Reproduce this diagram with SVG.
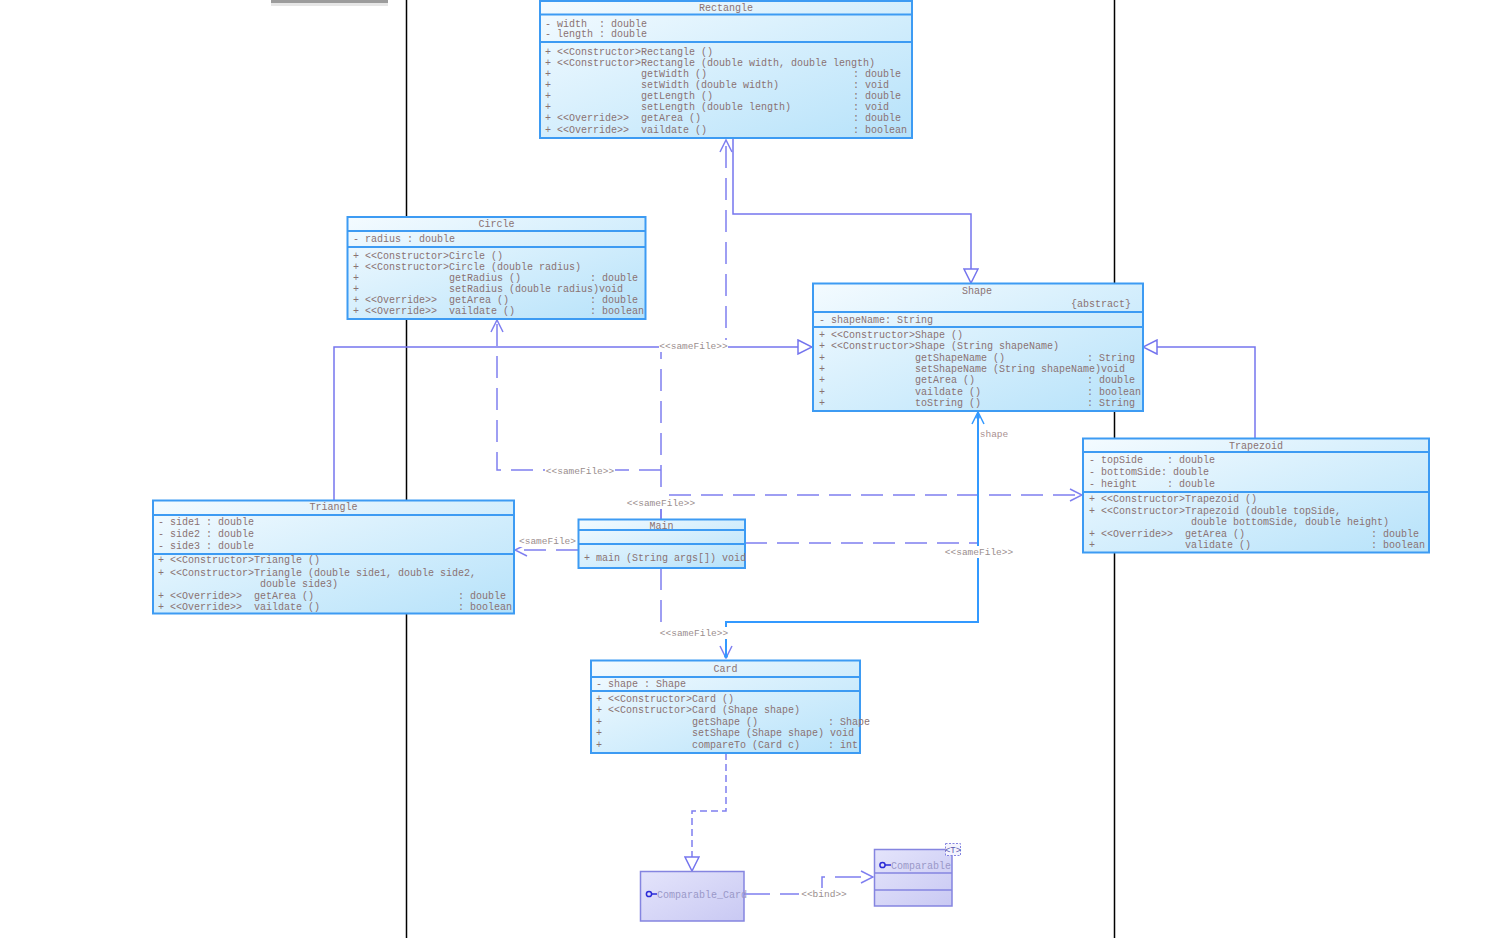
<svg xmlns="http://www.w3.org/2000/svg" width="1485" height="938" viewBox="0 0 1485 938" xml:space="preserve">
<style>
.box{fill:url(#bg);stroke:#3d9bf3;stroke-width:2}
.sep{stroke:#3d9bf3;stroke-width:2}
.t{font-family:"Liberation Mono",monospace;font-size:10px;fill:#8a7272;white-space:pre}
.c{text-anchor:middle}
.gen{fill:none;stroke:#7575ee;stroke-width:1.5}
.dep{fill:none;stroke:#7f7ff0;stroke-width:1.5;stroke-dasharray:22 10}
.assoc{fill:none;stroke:#3399ff;stroke-width:2}
.lbl{font-family:"Liberation Mono",monospace;font-size:9.5px;fill:#9a8e8e;text-anchor:middle;white-space:pre}
.lbg{fill:#ffffff}
.ibox{fill:url(#lav);stroke:#8585e0;stroke-width:1.5}
.it{font-family:"Liberation Mono",monospace;font-size:10px;fill:#9a98c8;white-space:pre}
.tp{font-family:"Liberation Mono",monospace;font-size:9px;fill:#5a58b0;text-anchor:middle}
</style>
<defs>
<linearGradient id="bg" x1="0" y1="0" x2="1" y2="1">
<stop offset="0" stop-color="#f4fbff"/>
<stop offset="1" stop-color="#b6e2fa"/>
</linearGradient>
<linearGradient id="lav" x1="0" y1="0" x2="1" y2="1">
<stop offset="0" stop-color="#e4e4fb"/>
<stop offset="1" stop-color="#c9c9f3"/>
</linearGradient>
<marker id="tri" markerUnits="userSpaceOnUse" markerWidth="16" markerHeight="16" refX="14" refY="7" orient="auto" viewBox="-1 -1 16 16">
<path d="M0,0 L14,7 L0,14 Z" fill="#ffffff" stroke="#7575ee" stroke-width="1.5"/>
</marker>
<marker id="open" markerUnits="userSpaceOnUse" markerWidth="14" markerHeight="14" refX="12" refY="6" orient="auto" viewBox="-1 -1 14 14">
<path d="M0,0 L12,6 L0,12" fill="none" stroke="#7f7ff0" stroke-width="1.5"/>
</marker>
<marker id="openb" markerUnits="userSpaceOnUse" markerWidth="14" markerHeight="14" refX="12" refY="6" orient="auto-start-reverse" viewBox="-1 -1 14 14">
<path d="M0,0 L12,6 L0,12" fill="none" stroke="#3399ff" stroke-width="1.5"/>
</marker>
</defs>
<rect x="0" y="0" width="1485" height="938" fill="#ffffff"/>
<rect x="271" y="0" width="117" height="6" fill="#e6e6e6"/>
<rect x="271" y="0" width="117" height="3" fill="#9c9c9c"/>
<line x1="406.5" y1="0" x2="406.5" y2="938" stroke="#000" stroke-width="1.5"/>
<line x1="1114.5" y1="0" x2="1114.5" y2="938" stroke="#000" stroke-width="1.5"/>

<g id="connectors">
<path class="gen" d="M733,139 V214 H971 V283" marker-end="url(#tri)"/>
<path class="gen" d="M334,500 V347 H812" marker-end="url(#tri)"/>
<path class="gen" d="M1255,438 V347 H1143" marker-end="url(#tri)"/>
<path class="dep" d="M661,519 V345 H726 V140" marker-end="url(#open)"/>
<path class="dep" d="M661,470 H497 V320" marker-end="url(#open)"/>
<path class="dep" d="M661,519 V495 H1082" marker-end="url(#open)"/>
<path class="dep" d="M578,550 H515" marker-end="url(#open)"/>
<path class="dep" d="M745,543 H977"/>
<path class="dep" d="M661,568 V632 H726 V658" marker-end="url(#open)"/>
<path class="assoc" d="M978,412 V622 H726 V656" marker-start="url(#openb)"/>
<circle cx="978" cy="417" r="2" fill="#3399ff"/>
<circle cx="726" cy="656" r="2" fill="#3399ff"/>
<path d="M726,753 V811 H692 V871" fill="none" stroke="#7f7ff0" stroke-width="1.5" stroke-dasharray="7 4" marker-end="url(#tri)"/>
<path d="M744,894 H822 V877 H873" fill="none" stroke="#7f7ff0" stroke-width="1.5" stroke-dasharray="26 10" marker-end="url(#open)"/>
<rect class="lbg" x="659" y="340" width="69" height="12"/>
<text class="lbl" x="693.5" y="349">&lt;&lt;sameFile&gt;&gt;</text>
<rect class="lbg" x="545" y="465" width="70" height="12"/>
<text class="lbl" x="580" y="474">&lt;&lt;sameFile&gt;&gt;</text>
<rect class="lbg" x="627" y="497" width="69" height="12"/>
<text class="lbl" x="661" y="506">&lt;&lt;sameFile&gt;&gt;</text>
<rect class="lbg" x="518" y="535" width="59" height="12"/>
<text class="lbl" x="547.5" y="544">&lt;sameFile&gt;</text>
<rect class="lbg" x="945" y="546" width="68" height="12"/>
<text class="lbl" x="979" y="555">&lt;&lt;sameFile&gt;&gt;</text>
<rect class="lbg" x="659" y="627" width="70" height="12"/>
<text class="lbl" x="694" y="636">&lt;&lt;sameFile&gt;&gt;</text>
<text class="lbl" x="994" y="437" style="fill:#a99090">shape</text>
<rect class="lbg" x="799" y="888" width="50" height="12"/>
<text class="lbl" x="824" y="897">&lt;&lt;bind&gt;&gt;</text>
</g>

<g id="Rectangle">
<rect class="box" x="540" y="1" width="372" height="137"/>
<line class="sep" x1="540" y1="14.5" x2="912" y2="14.5"/>
<line class="sep" x1="540" y1="42" x2="912" y2="42"/>
<text class="t c" x="726" y="10.5">Rectangle</text>
<text class="t" x="545" y="26.5">- width  : double</text>
<text class="t" x="545" y="37">- length : double</text>
<text class="t" x="545" y="54.5">+ &lt;&lt;Constructor&gt;</text><text class="t" x="641" y="54.5">Rectangle ()</text>
<text class="t" x="545" y="65.5">+ &lt;&lt;Constructor&gt;</text><text class="t" x="641" y="65.5">Rectangle (double width, double length)</text>
<text class="t" x="545" y="76.5">+</text><text class="t" x="641" y="76.5">getWidth ()</text><text class="t" x="853" y="76.5">: double</text>
<text class="t" x="545" y="87.5">+</text><text class="t" x="641" y="87.5">setWidth (double width)</text><text class="t" x="853" y="87.5">: void</text>
<text class="t" x="545" y="98.5">+</text><text class="t" x="641" y="98.5">getLength ()</text><text class="t" x="853" y="98.5">: double</text>
<text class="t" x="545" y="109.5">+</text><text class="t" x="641" y="109.5">setLength (double length)</text><text class="t" x="853" y="109.5">: void</text>
<text class="t" x="545" y="121">+ &lt;&lt;Override&gt;&gt;</text><text class="t" x="641" y="121">getArea ()</text><text class="t" x="853" y="121">: double</text>
<text class="t" x="545" y="132.5">+ &lt;&lt;Override&gt;&gt;</text><text class="t" x="641" y="132.5">vaildate ()</text><text class="t" x="853" y="132.5">: boolean</text>
</g>

<g id="Circle">
<rect class="box" x="347.5" y="217" width="298" height="102"/>
<line class="sep" x1="347.5" y1="231" x2="645.5" y2="231"/>
<line class="sep" x1="347.5" y1="247" x2="645.5" y2="247"/>
<text class="t c" x="496.5" y="227">Circle</text>
<text class="t" x="353" y="241.5">- radius : double</text>
<text class="t" x="353" y="258.5">+ &lt;&lt;Constructor&gt;</text><text class="t" x="449" y="258.5">Circle ()</text>
<text class="t" x="353" y="269.5">+ &lt;&lt;Constructor&gt;</text><text class="t" x="449" y="269.5">Circle (double radius)</text>
<text class="t" x="353" y="280.5">+</text><text class="t" x="449" y="280.5">getRadius ()</text><text class="t" x="590" y="280.5">: double</text>
<text class="t" x="353" y="291.5">+</text><text class="t" x="449" y="291.5">setRadius (double radius)void</text>
<text class="t" x="353" y="302.5">+ &lt;&lt;Override&gt;&gt;</text><text class="t" x="449" y="302.5">getArea ()</text><text class="t" x="590" y="302.5">: double</text>
<text class="t" x="353" y="314">+ &lt;&lt;Override&gt;&gt;</text><text class="t" x="449" y="314">vaildate ()</text><text class="t" x="590" y="314">: boolean</text>
</g>

<g id="Shape">
<rect class="box" x="813" y="283.5" width="330" height="127.5"/>
<line class="sep" x1="813" y1="312" x2="1143" y2="312"/>
<line class="sep" x1="813" y1="327" x2="1143" y2="327"/>
<text class="t c" x="977" y="293.5">Shape</text>
<text class="t" x="1131" y="306.5" text-anchor="end">{abstract}</text>
<text class="t" x="819" y="322.5">- shapeName: String</text>
<text class="t" x="819" y="338">+ &lt;&lt;Constructor&gt;</text><text class="t" x="915" y="338">Shape ()</text>
<text class="t" x="819" y="349">+ &lt;&lt;Constructor&gt;</text><text class="t" x="915" y="349">Shape (String shapeName)</text>
<text class="t" x="819" y="361">+</text><text class="t" x="915" y="361">getShapeName ()</text><text class="t" x="1087" y="361">: String</text>
<text class="t" x="819" y="372">+</text><text class="t" x="915" y="372">setShapeName (String shapeName)void</text>
<text class="t" x="819" y="383">+</text><text class="t" x="915" y="383">getArea ()</text><text class="t" x="1087" y="383">: double</text>
<text class="t" x="819" y="394.5">+</text><text class="t" x="915" y="394.5">vaildate ()</text><text class="t" x="1087" y="394.5">: boolean</text>
<text class="t" x="819" y="405.5">+</text><text class="t" x="915" y="405.5">toString ()</text><text class="t" x="1087" y="405.5">: String</text>
</g>

<g id="Trapezoid">
<rect class="box" x="1083" y="438.5" width="346" height="114"/>
<line class="sep" x1="1083" y1="452" x2="1429" y2="452"/>
<line class="sep" x1="1083" y1="492" x2="1429" y2="492"/>
<text class="t c" x="1256" y="448.5">Trapezoid</text>
<text class="t" x="1089" y="462.5">- topSide    : double</text>
<text class="t" x="1089" y="474.5">- bottomSide: double</text>
<text class="t" x="1089" y="486.5">- height     : double</text>
<text class="t" x="1089" y="502">+ &lt;&lt;Constructor&gt;</text><text class="t" x="1185" y="502">Trapezoid ()</text>
<text class="t" x="1089" y="513.5">+ &lt;&lt;Constructor&gt;</text><text class="t" x="1185" y="513.5">Trapezoid (double topSide,</text>
<text class="t" x="1191" y="524.5">double bottomSide, double height)</text>
<text class="t" x="1089" y="536.5">+ &lt;&lt;Override&gt;&gt;</text><text class="t" x="1185" y="536.5">getArea ()</text><text class="t" x="1371" y="536.5">: double</text>
<text class="t" x="1089" y="547.5">+</text><text class="t" x="1185" y="547.5">validate ()</text><text class="t" x="1371" y="547.5">: boolean</text>
</g>

<g id="Triangle">
<rect class="box" x="153" y="500.5" width="361" height="113"/>
<line class="sep" x1="153" y1="515" x2="514" y2="515"/>
<line class="sep" x1="153" y1="554" x2="514" y2="554"/>
<text class="t c" x="333.5" y="509.5">Triangle</text>
<text class="t" x="158" y="524.5">- side1 : double</text>
<text class="t" x="158" y="536.5">- side2 : double</text>
<text class="t" x="158" y="548.5">- side3 : double</text>
<text class="t" x="158" y="563">+ &lt;&lt;Constructor&gt;</text><text class="t" x="254" y="563">Triangle ()</text>
<text class="t" x="158" y="575.5">+ &lt;&lt;Constructor&gt;</text><text class="t" x="254" y="575.5">Triangle (double side1, double side2,</text>
<text class="t" x="260" y="586.5">double side3)</text>
<text class="t" x="158" y="598.5">+ &lt;&lt;Override&gt;&gt;</text><text class="t" x="254" y="598.5">getArea ()</text><text class="t" x="458" y="598.5">: double</text>
<text class="t" x="158" y="609.5">+ &lt;&lt;Override&gt;&gt;</text><text class="t" x="254" y="609.5">vaildate ()</text><text class="t" x="458" y="609.5">: boolean</text>
</g>

<g id="Main">
<rect class="box" x="578.5" y="519.5" width="166.5" height="48.5"/>
<line class="sep" x1="578.5" y1="530" x2="745" y2="530"/>
<line class="sep" x1="578.5" y1="544" x2="745" y2="544"/>
<text class="t c" x="661.5" y="528.5">Main</text>
<text class="t" x="584" y="561">+ main (String args[]) void</text>
</g>

<g id="Card">
<rect class="box" x="591" y="660.5" width="269" height="92.5"/>
<line class="sep" x1="591" y1="677" x2="860" y2="677"/>
<line class="sep" x1="591" y1="691" x2="860" y2="691"/>
<text class="t c" x="725.5" y="671.5">Card</text>
<text class="t" x="596" y="686.5">- shape : Shape</text>
<text class="t" x="596" y="701.5">+ &lt;&lt;Constructor&gt;</text><text class="t" x="692" y="701.5">Card ()</text>
<text class="t" x="596" y="712.5">+ &lt;&lt;Constructor&gt;</text><text class="t" x="692" y="712.5">Card (Shape shape)</text>
<text class="t" x="596" y="724.5">+</text><text class="t" x="692" y="724.5">getShape ()</text><text class="t" x="828" y="724.5">: Shape</text>
<text class="t" x="596" y="736">+</text><text class="t" x="692" y="736">setShape (Shape shape) void</text>
<text class="t" x="596" y="747.5">+</text><text class="t" x="692" y="747.5">compareTo (Card c)</text><text class="t" x="828" y="747.5">: int</text>
</g>

<g id="Comparable_Card">
<rect class="ibox" x="640.5" y="871.5" width="103.5" height="49.5"/>
<circle cx="649" cy="894" r="2.6" fill="none" stroke="#2a2ad8" stroke-width="1.5"/>
<line x1="651.5" y1="894" x2="657" y2="894" stroke="#2a2ad8" stroke-width="1.5"/>
<text class="it" x="657" y="897.5">Comparable_Card</text>
</g>

<g id="Comparable">
<rect class="ibox" x="874.5" y="849.5" width="77.5" height="56.5"/>
<line x1="874.5" y1="873" x2="952" y2="873" stroke="#8585e0" stroke-width="1.5"/>
<line x1="874.5" y1="890" x2="952" y2="890" stroke="#8585e0" stroke-width="1.5"/>
<circle cx="882.5" cy="865" r="2.6" fill="none" stroke="#2a2ad8" stroke-width="1.5"/>
<line x1="885" y1="865" x2="891" y2="865" stroke="#2a2ad8" stroke-width="1.5"/>
<text class="it" x="891" y="868.5">Comparable</text>
<rect x="945.5" y="843.5" width="15" height="12" fill="#f4f4fd" stroke="#8585e0" stroke-width="1" stroke-dasharray="2 1.5"/>
<text class="tp" x="953" y="852.5">&lt;T&gt;</text>
</g>
</svg>
